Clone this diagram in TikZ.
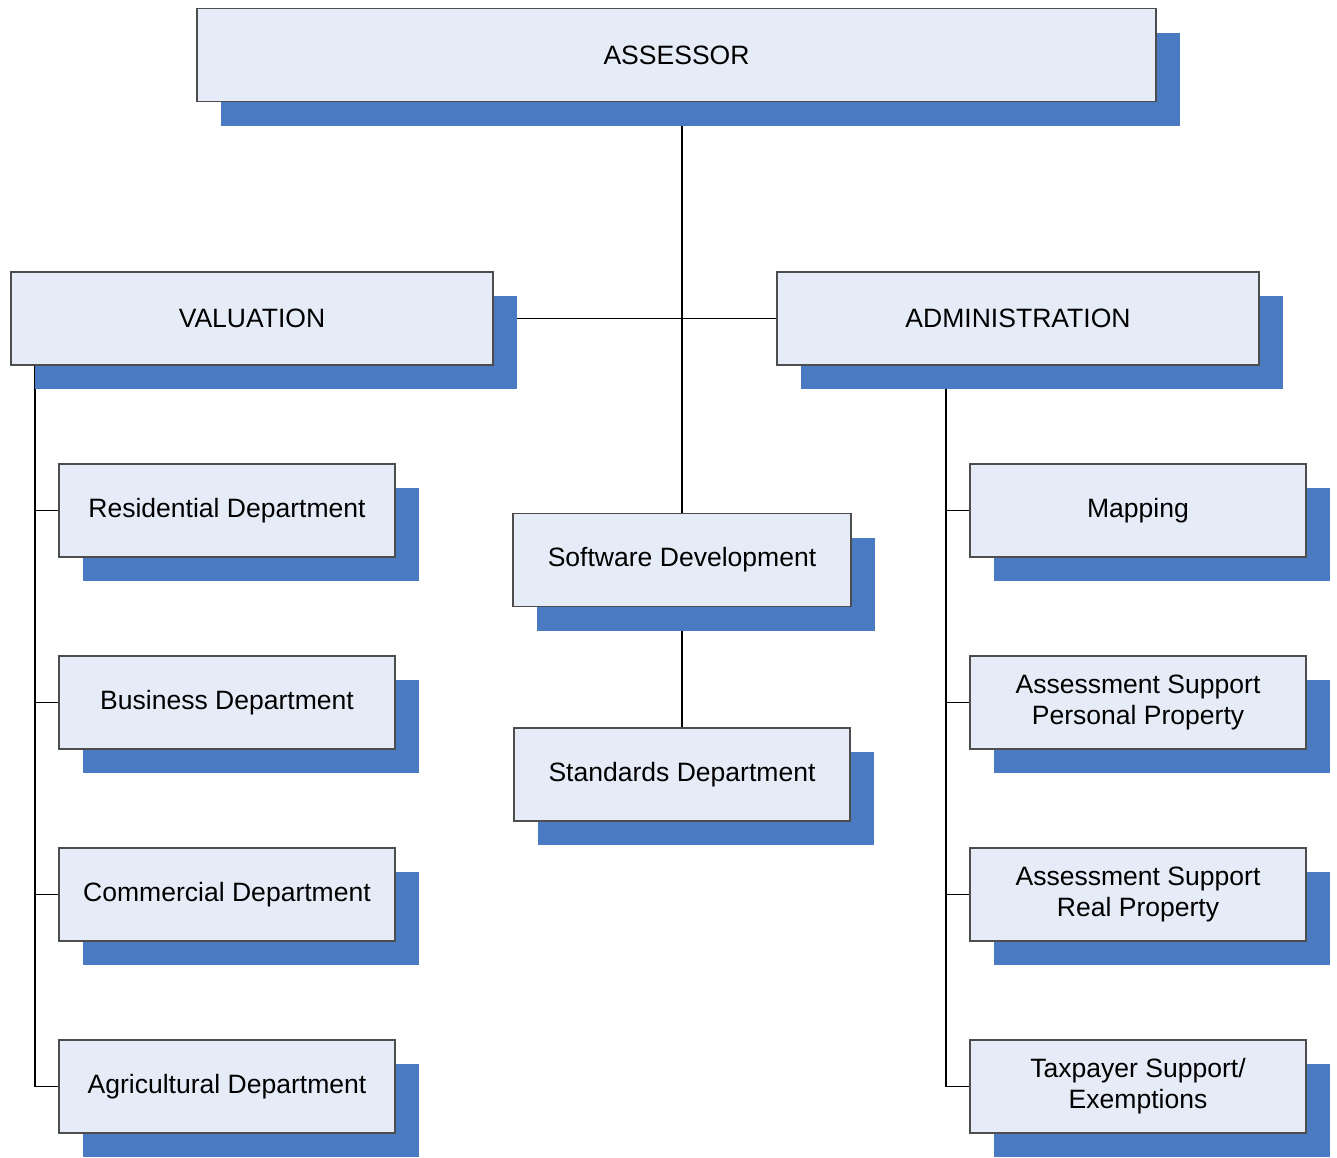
\documentclass[tikz,border=0pt]{standalone}
\usepackage{fontspec}
\setmainfont{Liberation Sans}
\usepackage{tikz}
\usetikzlibrary{positioning,calc,shadows,backgrounds}
\definecolor{unitfill}{HTML}{E6ECF7}
\definecolor{unitshade}{HTML}{4A7AC2}
\definecolor{unitline}{HTML}{4D4D4D}
\tikzset{
  unit/.style   ={rectangle, draw=unitline, fill=unitfill, line width=0.6pt,
                  minimum height=1.86cm, inner sep=0pt, outer sep=0pt,
                  align=center, font=\fontsize{15.1}{17.6}\selectfont,
                  general shadow={fill=unitshade, shadow xshift=0.48cm,
                                  shadow yshift=-0.48cm}},
  head/.style   ={unit, minimum width=9.64cm},
  dept/.style   ={unit, minimum width=6.72cm},
  % organisational links run behind the shaded boxes
  link/.style   ={draw=black, line width=1pt},
}
\def\leftdepts{res/-10.21/Residential Department, bus/-14.05/Business Department,
               com/-17.89/Commercial Department, agri/-21.73/Agricultural Department}
\def\rightdepts{map/-10.21/Mapping, asp/-14.05/Assessment Support\\Personal Property,
                asr/-17.89/Assessment Support\\Real Property,
                tax/-21.73/{Taxpayer Support/\\Exemptions}}

\begin{document}
\begin{tikzpicture}
  \useasboundingbox (0,0) rectangle (26.74,-23.14);
  \node[unit, minimum width=19.18cm] (boss) at (13.53,-1.1) {ASSESSOR};
  \node[head] (val) at (5.04,-6.37) {VALUATION};
  \node[head] (adm) at (20.36,-6.37) {ADMINISTRATION};
  \foreach \n/\y/\lab in \leftdepts {\node[dept] (\n) at (4.54,\y) {\lab};}
  \foreach \n/\y/\lab in \rightdepts {\node[dept] (\n) at (22.76,\y) {\lab};}
  \node[dept, minimum width=6.76cm] (soft) at (13.64,-11.2) {Software Development};
  \node[dept] (std) at (13.64,-15.49) {Standards Department};
  \begin{scope}[on background layer]
    \draw[link] (soft.north |- boss.south) -- (soft.north);
    \draw[link] (val.east) -- (adm.west);
    \draw[link] (soft.south) -- (std.north);
    \draw[link] ([xshift=-0.48cm]res.west |- val.south) |- (agri.west);
    \draw[link] ([xshift=-0.48cm]map.west |- adm.south) |- (tax.west);
    \foreach \n in {res,bus,com,map,asp,asr}
      {\draw[link] (\n.west) -- ++(-0.48,0);}
  \end{scope}
\end{tikzpicture}
\end{document}
